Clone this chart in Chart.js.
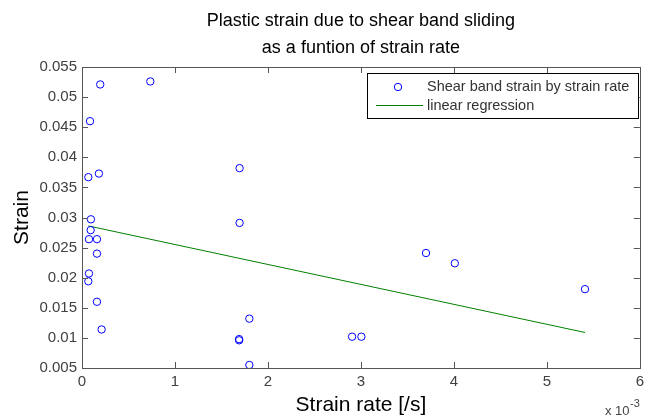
<html><head>
  <title>Plastic strain vs strain rate</title>
  <script src="https://cdn.jsdelivr.net/npm/chart.js"></script>
  <style>
    body { margin: 0; background: #fff; }
    #wrap { width: 649px; height: 418px; }
  </style>
</head>
<body>
  <div id="wrap"><canvas id="strainChart" width="649" height="418"></canvas></div>

  <script>
    // Strain rate in units of 1e-3 /s
    const strainRate = [0.196, 0.735, 0.086, 0.068, 0.182, 0.096, 0.093, 0.075, 0.161, 0.161,
                        0.075, 0.068, 0.161, 0.211, 1.695, 1.695, 1.80, 1.69, 1.69, 1.80,
                        2.905, 3.005, 3.70, 4.01, 5.41];
    const strain = [0.0521, 0.0526, 0.0460, 0.0367, 0.0373, 0.0297, 0.0279, 0.0264, 0.0264, 0.0240,
                    0.0207, 0.0194, 0.0160, 0.0114, 0.0382, 0.0291, 0.0132, 0.0098, 0.0096, 0.0055,
                    0.0102, 0.0102, 0.0241, 0.0224, 0.0181];
    // end points of the fitted line
    const fitRate = [0.068, 5.41];
    const fitStrain = [0.0286, 0.0109];

    const titleLines = ['Plastic strain due to shear band sliding', 'as a funtion of strain rate'];
    const seriesNames = ['Shear band strain by strain rate', 'linear regression'];
    const FONT = '"Liberation Sans", Arial, sans-serif';

    const scatterPts = strainRate.map((x, i) => ({ x: x, y: strain[i] }));
    const fitPts = fitRate.map((x, i) => ({ x: x, y: fitStrain[i] }));

    // box, inward ticks, titles, legend and exponent label
    const matlabLook = {
      id: 'matlabLook',
      afterDraw(chart) {
        const ctx = chart.ctx;
        const a = chart.chartArea;
        const xs = chart.scales.x, ys = chart.scales.y;
        ctx.save();
        ctx.strokeStyle = '#555';
        ctx.lineWidth = 1;
        ctx.strokeRect(Math.round(a.left) + 0.5, Math.round(a.top) + 0.5,
                       Math.round(a.right - a.left), Math.round(a.bottom - a.top));
        ctx.beginPath();
        xs.ticks.forEach(t => {
          const px = Math.round(xs.getPixelForValue(t.value)) + 0.5;
          ctx.moveTo(px, a.bottom); ctx.lineTo(px, a.bottom - 6);
          ctx.moveTo(px, a.top); ctx.lineTo(px, a.top + 6);
        });
        ys.ticks.forEach(t => {
          const py = Math.round(ys.getPixelForValue(t.value)) + 0.5;
          ctx.moveTo(a.left, py); ctx.lineTo(a.left + 6, py);
          ctx.moveTo(a.right, py); ctx.lineTo(a.right - 6, py);
        });
        ctx.stroke();

        // title
        ctx.fillStyle = '#000';
        ctx.font = '18px ' + FONT;
        ctx.textAlign = 'center';
        ctx.textBaseline = 'alphabetic';
        const cx = (a.left + a.right) / 2;
        ctx.fillText(titleLines[0], cx, 26);
        ctx.fillText(titleLines[1], cx, 53);

        // axis titles
        ctx.font = '21px ' + FONT;
        ctx.fillText('Strain rate [/s]', cx, 411);
        ctx.save();
        ctx.translate(28, (a.top + a.bottom) / 2);
        ctx.rotate(-Math.PI / 2);
        ctx.fillText('Strain', 0, 0);
        ctx.restore();

        // exponent
        ctx.fillStyle = '#444';
        ctx.textAlign = 'left';
        ctx.font = '13px ' + FONT;
        ctx.fillText('x 10', 605, 415);
        ctx.font = '11px ' + FONT;
        ctx.fillText('-3', 630, 407);

        // legend
        const lx = 367, ly = 73, lw = 271, lh = 45;
        ctx.fillStyle = '#fff';
        ctx.fillRect(lx, ly, lw, lh);
        ctx.strokeStyle = '#000';
        ctx.strokeRect(lx + 0.5, ly + 0.5, lw, lh);
        ctx.strokeStyle = '#0000ff';
        ctx.beginPath();
        ctx.arc(398, 87, 3.7, 0, Math.PI * 2);
        ctx.stroke();
        ctx.strokeStyle = '#008000';
        ctx.beginPath();
        ctx.moveTo(376, 105.5); ctx.lineTo(423, 105.5);
        ctx.stroke();
        ctx.fillStyle = '#333';
        ctx.font = '14.5px ' + FONT;
        ctx.textBaseline = 'middle';
        ctx.fillText(seriesNames[0], 427, 87);
        ctx.fillText(seriesNames[1], 427, 106);
        ctx.restore();
      }
    };

    new Chart(document.getElementById('strainChart'), {
      type: 'scatter',
      data: {
        datasets: [{
          label: seriesNames[0],
          data: scatterPts,
          showLine: false,
          pointStyle: 'circle',
          pointRadius: 3.7,
          borderColor: '#0000ff',
          backgroundColor: 'rgba(0,0,0,0)',
          borderWidth: 1
        }, {
          label: seriesNames[1],
          data: fitPts,
          showLine: true,
          pointRadius: 0,
          borderColor: '#008000',
          borderWidth: 1
        }]
      },
      options: {
        responsive: false,
        animation: false,
        layout: { padding: { top: 67, right: 6, left: 0, bottom: 0 } },
        plugins: { legend: { display: false }, title: { display: false }, tooltip: { enabled: false } },
        scales: {
          x: {
            type: 'linear', min: 0, max: 6,
            grid: { display: false, drawTicks: false }, border: { display: false },
            ticks: { stepSize: 1, color: '#404040', font: { family: FONT, size: 15 }, padding: 5,
                     maxRotation: 0, callback: v => String(v) },
            afterFit: s => { s.height = 50; }
          },
          y: {
            type: 'linear', min: 0.005, max: 0.055,
            grid: { display: false, drawTicks: false }, border: { display: false },
            ticks: { stepSize: 0.005, color: '#404040', font: { family: FONT, size: 15 }, padding: 5,
                     callback: v => String(+v.toFixed(3)) },
            afterFit: s => { s.width = 82; }
          }
        }
      },
      plugins: [matlabLook]
    });
  </script>
</body></html>
